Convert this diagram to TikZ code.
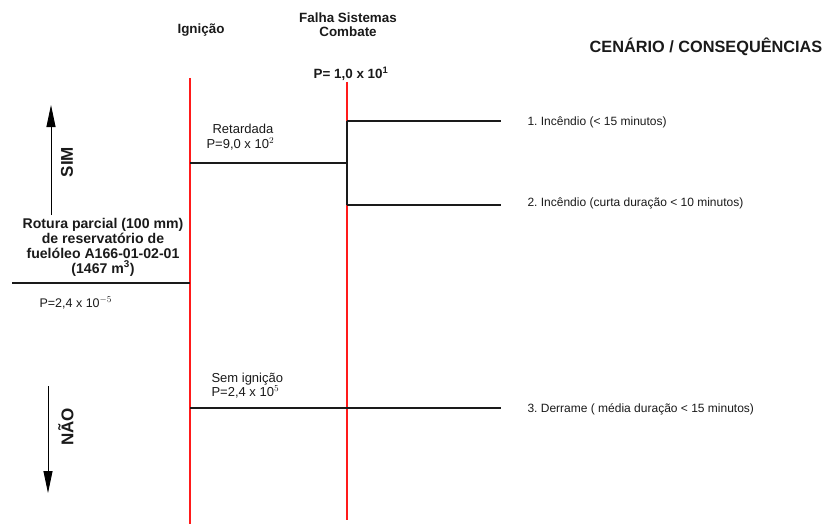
\documentclass[tikz,border=0pt]{standalone}
\usepackage{fontspec}
\setmainfont{Liberation Sans}
\usetikzlibrary{arrows.meta, positioning}
\definecolor{cred}{HTML}{FF1A1A}
\definecolor{cink}{HTML}{1A1A1A}
\tikzset{
  every picture/.style={line width=1.1pt},
  head/.style={font=\fontsize{13.4}{15}\selectfont\bfseries, align=center, text=cink, inner sep=1pt},
  lbl/.style={font=\fontsize{13}{15}\selectfont, text=cink, anchor=west, align=left, inner sep=1pt},
  outcome/.style={lbl, font=\fontsize{12}{14}\selectfont},
  branch/.style={draw=cink},
  stage/.style={draw=cred, line width=1.1pt},
  way/.style={-{Triangle[length=22pt, width=9pt]}, draw=black, line width=0.9pt},
}
\frenchspacing
\begin{document}
\begin{tikzpicture}[x=1pt, y=-1pt]
  \useasboundingbox (0,0) rectangle (829,524);
  % column heads
  \node[head] (ign) at (201,30) {Igni\c{c}\~ao};
  \node[head, font=\fontsize{13.4}{14}\selectfont\bfseries] (fsc) at (348,25) {Falha Sistemas\\Combate};
  \node[head] (pfsc) at (351,74) {P= 1,0 x 10$^{\mathbf{1}}$};
  \node[head, font=\fontsize{16.3}{18}\selectfont\bfseries] (cen) at (706,47) {CEN\'ARIO / CONSEQU\^ENCIAS};
  % initiating event
  \node[head, font=\fontsize{14.1}{15}\selectfont\bfseries] (evt) at (103,247) {Rotura parcial (100 mm)\\de reservat\'orio de\\fuel\'oleo A166-01-02-01\\(1467 m$^{\mathbf{3}}$)};
  \node[lbl, font=\fontsize{12.5}{14}\selectfont] (pevt) at (38,303) {P=2,4 x 10$^{-5}$};
  % stage lines
  \coordinate (r1t) at (190,78);  \coordinate (r1b) at (190,524);
  \coordinate (r2t) at (347,82);  \coordinate (r2b) at (347,520);
  \draw[stage] (r1t) -- (r1b);
  \draw[stage] (r2t) -- (r2b);
  % tree
  \coordinate (e0) at (12,283);
  \coordinate (e1) at (190,283);
  \coordinate (d1) at (190,163);
  \coordinate (d2) at (347,163);
  \coordinate (u1) at (347,121);
  \coordinate (u2) at (347,205);
  \coordinate (n1) at (190,408);
  \draw[branch] (e0) -- (e1);
  \draw[branch] (d1) -- (d2);
  \draw[branch] (u1) -- (u2);
  \node[outcome] (c1) at (526,122) {1. Inc\^endio (< 15 minutos)};
  \node[outcome] (c2) at (526,203) {2. Inc\^endio (curta dura\c{c}\~ao < 10 minutos)};
  \node[outcome] (c3) at (526,409) {3. Derrame ( m\'edia dura\c{c}\~ao < 15 minutos)};
  \draw[branch] (u1) -- ([xshift=-25pt]u1 -| c1.west);
  \draw[branch] (u2) -- ([xshift=-25pt]u2 -| c2.west);
  \draw[branch] (n1) -- ([xshift=-25pt]n1 -| c3.west);
  % branch labels
  \node[lbl] (ret) at (211,129) {Retardada};
  \node[lbl] (pret) at (205,144) {P=9,0 x 10$^{2}$};
  \node[lbl] (sem) at (210,379) {Sem igni\c{c}\~ao};
  \node[lbl] (psem) at (210,392) {P=2,4 x 10$^{5}$};
  % yes / no
  \coordinate (s0) at (51,215); \coordinate (s1) at (51,105);
  \coordinate (o0) at (48,386); \coordinate (o1) at (48,493);
  \draw[way] (s0) -- (s1);
  \draw[way] (o0) -- (o1);
  \node[head, rotate=90, font=\fontsize{17}{18}\selectfont\bfseries] (sim) at (67,162) {SIM};
  \node[head, rotate=90, font=\fontsize{17}{18}\selectfont\bfseries] (nao) at (66,427) {N\~AO};
\end{tikzpicture}
\end{document}
